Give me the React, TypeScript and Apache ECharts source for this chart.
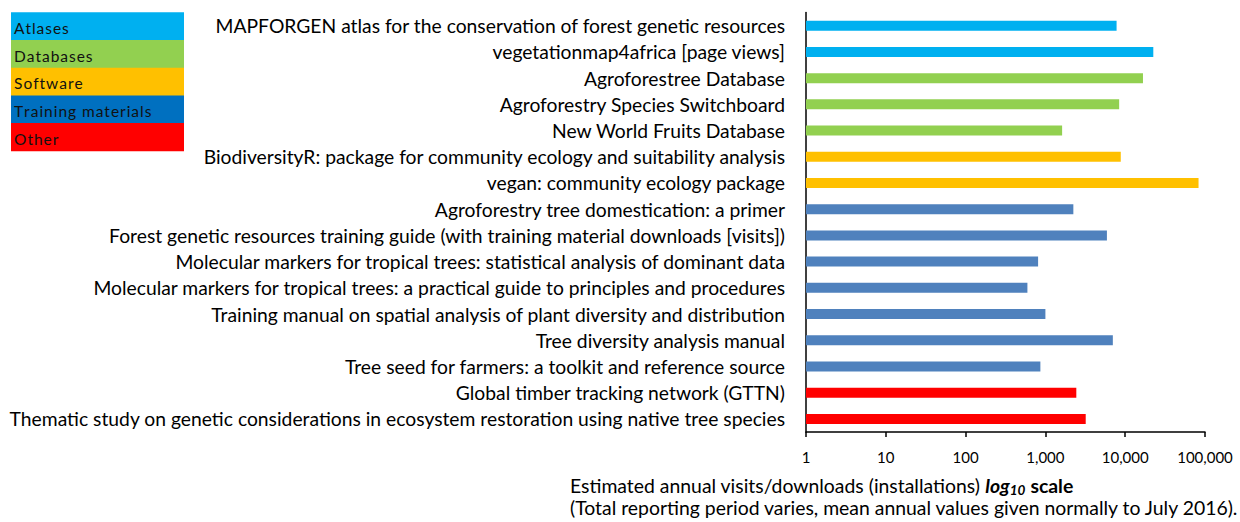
import React, { useEffect, useRef } from "react";
import * as echarts from "echarts";

const categories = [
  "MAPFORGEN atlas for the conservation of forest genetic resources",
  "vegetationmap4africa [page views]",
  "Agroforestree Database",
  "Agroforestry Species Switchboard",
  "New World Fruits Database",
  "BiodiversityR: package for community ecology and suitability analysis",
  "vegan: community ecology package",
  "Agroforestry tree domestication: a primer",
  "Forest genetic resources training guide (with training material downloads [visits])",
  "Molecular markers for tropical trees: statistical analysis of dominant data",
  "Molecular markers for tropical trees: a practical guide to principles and procedures",
  "Training manual on spatial analysis of plant diversity and distribution",
  "Tree diversity analysis manual",
  "Tree seed for farmers: a toolkit and reference source",
  "Global timber tracking network (GTTN)",
  "Thematic study on genetic considerations in ecosystem restoration using native tree species",
];

const values = [7800, 22500, 16700, 8400, 1620, 8800, 83000, 2240, 5900, 810, 595, 1000, 7000, 865, 2440, 3200];

const groups = [
  "Atlases", "Atlases",
  "Databases", "Databases", "Databases",
  "Software", "Software",
  "Training materials", "Training materials", "Training materials", "Training materials",
  "Training materials", "Training materials", "Training materials",
  "Other", "Other",
];

const legendNames = ["Atlases", "Databases", "Software", "Training materials", "Other"];
const legendColors = ["#00B0F0", "#92D050", "#FFC000", "#0070C0", "#FF0000"];
const barColors: Record<string, string> = {
  Atlases: "#00B0F0",
  Databases: "#92D050",
  Software: "#FFC000",
  "Training materials": "#4F81BD",
  Other: "#FF0000",
};

const FONT = "Lato";

export default function App() {
  const ref = useRef<HTMLDivElement>(null);
  useEffect(() => {
    if (!ref.current) return;
    const chart = echarts.init(ref.current, undefined, { renderer: "svg" });
    const legendGraphics: any[] = [];
    const rowH = 27.7;
    legendNames.forEach((name, i) => {
      legendGraphics.push({
        type: "rect",
        left: 11,
        top: 12.3 + i * rowH,
        shape: { width: 173, height: rowH + 0.5 },
        style: { fill: legendColors[i] },
        silent: true,
      });
      legendGraphics.push({
        type: "text",
        left: 14,
        top: 12.3 + i * rowH + 7.5,
        style: { text: name.split("").join("\u200A"), fill: "#111", font: `15.5px ${FONT}` },
        silent: true,
      });
    });
    chart.setOption({
      animation: false,
      grid: { left: 806, right: 35, top: 12.6, bottom: 90, containLabel: false },
      xAxis: {
        type: "log",
        logBase: 10,
        min: 1,
        max: 100000,
        axisLine: { show: true, lineStyle: { color: "#000", width: 1.5 } },
        axisTick: { show: true, length: 5, lineStyle: { color: "#000", width: 1.5 } },
        splitLine: { show: false },
        minorTick: { show: false },
        axisLabel: {
          color: "#000",
          fontFamily: FONT,
          fontSize: 15,
          margin: 17,
          formatter: (v: number) => Math.round(v).toLocaleString("en-US"),
        },
      },
      yAxis: {
        type: "category",
        inverse: true,
        data: categories,
        axisLine: { show: true, lineStyle: { color: "#000", width: 1.5 } },
        axisTick: { show: false },
        axisLabel: { color: "#000", fontFamily: FONT, fontSize: 19.3, margin: 21 },
      },
      series: [
        {
          type: "bar",
          barWidth: 10,
          data: values.map((v, i) => ({ value: v, itemStyle: { color: barColors[groups[i]] } })),
        },
      ],
      graphic: [
        ...legendGraphics,
        {
          type: "text",
          left: 570,
          top: 476,
          style: {
            text: "Estimated annual visits/downloads (installations) {bi|log}{sub|10} {b|scale}",
            font: `19.4px ${FONT}`,
            fill: "#000",
            rich: {
              bi: { fontFamily: FONT, fontSize: 19.4, fontWeight: "bold", fontStyle: "italic", fill: "#000" },
              sub: { fontFamily: FONT, fontSize: 13.5, fontWeight: "bold", fontStyle: "italic", fill: "#000", padding: [9, 0, 0, 0] },
              b: { fontFamily: FONT, fontSize: 19.4, fontWeight: "bold", fill: "#000" },
            },
          },
        },
        {
          type: "text",
          left: 570,
          top: 498,
          style: {
            text: "(Total reporting period varies, mean annual values given normally to July 2016).",
            font: `19.4px ${FONT}`,
            fill: "#000",
          },
        },
      ],
    });
    return () => chart.dispose();
  }, []);
  return <div ref={ref} style={{ width: 1240, height: 522, position: "absolute", left: 0, top: 0 }} />;
}
